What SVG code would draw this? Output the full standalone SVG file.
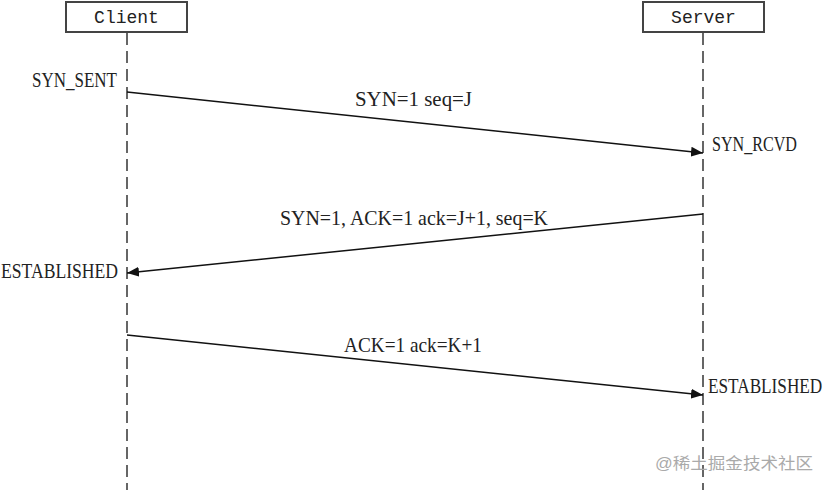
<svg xmlns="http://www.w3.org/2000/svg" width="830" height="490" viewBox="0 0 830 490">
<style>
.box{fill:#fff;stroke:#444;stroke-width:2}
.life{stroke:#666;stroke-width:2;stroke-dasharray:12 6;fill:none}
.msg{stroke:#111;stroke-width:1.5;fill:none}
.hd{font-family:"Liberation Mono",monospace;font-size:18px;fill:#222}
.lb{font-family:"Liberation Serif",serif;font-size:21px;fill:#222}
.wm{font-family:"Liberation Sans","Noto Sans CJK SC",sans-serif;font-size:16px;fill:#aaa}
</style>
<defs>
<marker id="ah" viewBox="0 0 12 10" refX="12" refY="5" markerWidth="12" markerHeight="10" markerUnits="userSpaceOnUse" orient="auto">
<path d="M0,0 L12,5 L0,10 Z" fill="#111"/>
</marker>
</defs>
<g id="client">
<rect class="box" x="66" y="2" width="121" height="30"/>
<text class="hd" x="126.5" y="23" text-anchor="middle">Client</text>
<line class="life" x1="127" y1="33" x2="127" y2="490"/>
</g>
<g id="server">
<rect class="box" x="643" y="2" width="121" height="30"/>
<text class="hd" x="703.5" y="23" text-anchor="middle">Server</text>
<line class="life" x1="703" y1="33" x2="703" y2="490"/>
</g>
<g id="connectors">
<line class="msg" x1="127" y1="92" x2="703" y2="153" marker-end="url(#ah)"/>
<line class="msg" x1="703" y1="214" x2="127" y2="273" marker-end="url(#ah)"/>
<line class="msg" x1="127" y1="335" x2="703" y2="395" marker-end="url(#ah)"/>
</g>
<g id="labels">
<text class="lb" x="32" y="87" textLength="85" lengthAdjust="spacingAndGlyphs">SYN_SENT</text>
<text class="lb" x="355" y="106" textLength="117" lengthAdjust="spacingAndGlyphs">SYN=1  seq=J</text>
<text class="lb" x="712" y="151" textLength="85" lengthAdjust="spacingAndGlyphs">SYN_RCVD</text>
<text class="lb" x="280" y="225" textLength="268" lengthAdjust="spacingAndGlyphs">SYN=1, ACK=1  ack=J+1, seq=K</text>
<text class="lb" x="1" y="278" textLength="117" lengthAdjust="spacingAndGlyphs">ESTABLISHED</text>
<text class="lb" x="344" y="352" textLength="138" lengthAdjust="spacingAndGlyphs">ACK=1  ack=K+1</text>
<text class="lb" transform="translate(708,393) scale(0.82,1)" x="0" y="0">ESTABLISHED</text>
</g>
<text class="wm" x="655" y="469" textLength="158" lengthAdjust="spacingAndGlyphs">@稀土掘金技术社区</text>
</svg>
